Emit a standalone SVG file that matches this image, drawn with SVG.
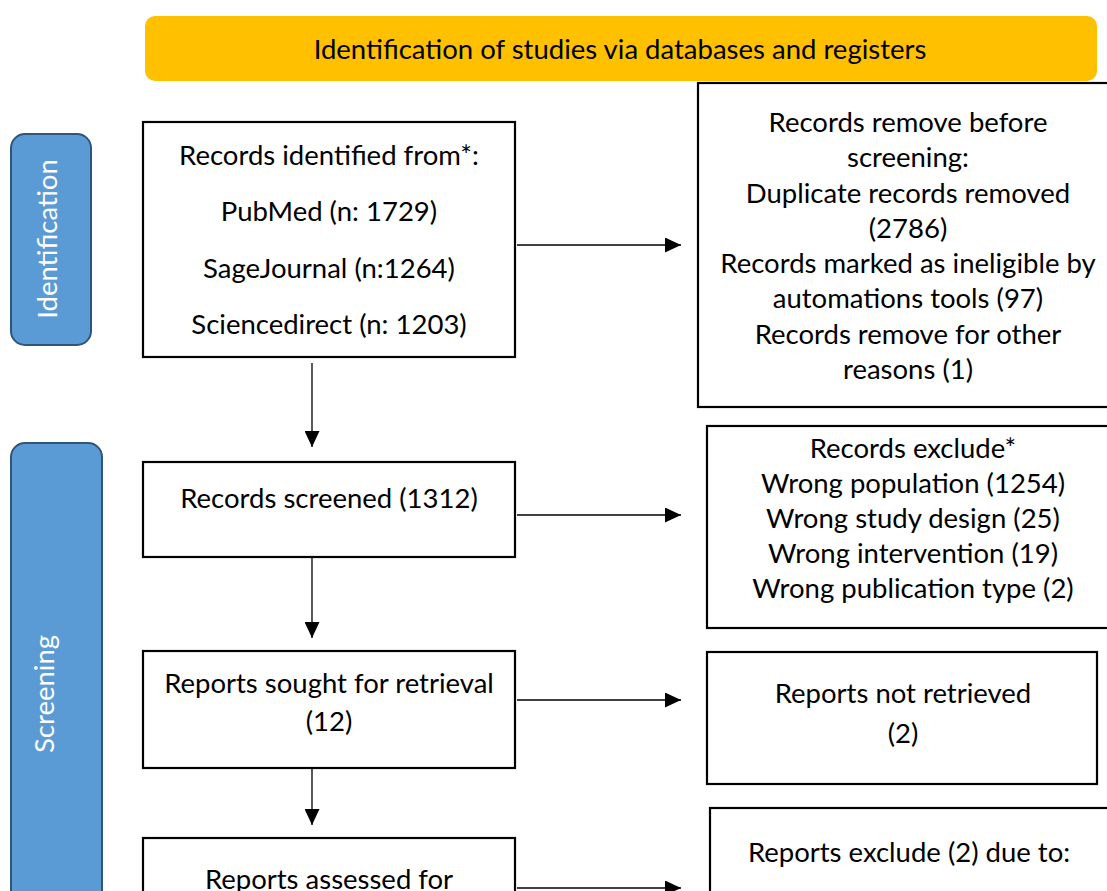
<svg xmlns="http://www.w3.org/2000/svg" width="1107" height="891" viewBox="0 0 1107 891">
<defs>
<marker id="ah" viewBox="0 0 16 15" refX="16" refY="7.5" markerWidth="16" markerHeight="15" markerUnits="userSpaceOnUse" orient="auto">
<path d="M0,0 L16,7.5 L0,15 Z" fill="#000"/>
</marker>
</defs>
<style>
.t{font-family:Lato,"Open Sans","Liberation Sans",sans-serif;font-size:27.5px;fill:#000;text-anchor:middle}
.w{font-family:Lato,"Open Sans","Liberation Sans",sans-serif;font-size:27.5px;fill:#fff;text-anchor:middle}
.box{fill:#fff;stroke:#000;stroke-width:2.2}
.side{fill:#5B9BD5;stroke:#31557A;stroke-width:2}
.c{stroke:#000;stroke-width:1.3;fill:none;marker-end:url(#ah)}
</style>
<rect width="1107" height="891" fill="#fff"/>
<g id="banner">
<rect x="145" y="16" width="952" height="65" rx="10" fill="#FFC000"/>
<text class="t" x="620" y="59">Identification of studies via databases and registers</text>
</g>
<g id="identification">
<rect class="side" x="11" y="134" width="80" height="211" rx="14"/>
<text class="w" transform="translate(57,239) rotate(-90)">Identification</text>
</g>
<g id="screening">
<rect class="side" x="11" y="443" width="91" height="470" rx="14"/>
<text class="w" transform="translate(54,694) rotate(-90)">Screening</text>
</g>
<g id="records-identified">
<rect class="box" x="143" y="122" width="372" height="235"/>
<text class="t" x="329" y="165">Records identified from*:</text>
<text class="t" x="329" y="221">PubMed (n: 1729)</text>
<text class="t" x="329" y="278">SageJournal (n:1264)</text>
<text class="t" x="329" y="334">Sciencedirect (n: 1203)</text>
</g>
<g id="records-removed">
<rect class="box" x="698" y="83" width="430" height="324"/>
<text class="t" x="908" y="132">Records remove before</text>
<text class="t" x="908" y="167">screening:</text>
<text class="t" x="908" y="203">Duplicate records removed</text>
<text class="t" x="908" y="238">(2786)</text>
<text class="t" x="908" y="273">Records marked as ineligible by</text>
<text class="t" x="908" y="308">automations tools (97)</text>
<text class="t" x="908" y="344">Records remove for other</text>
<text class="t" x="908" y="379">reasons (1)</text>
</g>
<g id="records-screened">
<rect class="box" x="143" y="462" width="372" height="95"/>
<text class="t" x="329" y="508">Records screened (1312)</text>
</g>
<g id="records-excluded">
<rect class="box" x="707" y="426" width="430" height="202"/>
<text class="t" x="913" y="458">Records exclude*</text>
<text class="t" x="913" y="493">Wrong population (1254)</text>
<text class="t" x="913" y="528">Wrong study design (25)</text>
<text class="t" x="913" y="563">Wrong intervention (19)</text>
<text class="t" x="913" y="598">Wrong publication type (2)</text>
</g>
<g id="reports-sought">
<rect class="box" x="143" y="651" width="372" height="117"/>
<text class="t" x="329" y="693">Reports sought for retrieval</text>
<text class="t" x="329" y="731">(12)</text>
</g>
<g id="reports-not-retrieved">
<rect class="box" x="707" y="652" width="390" height="132"/>
<text class="t" x="903" y="703">Reports not retrieved</text>
<text class="t" x="903" y="743">(2)</text>
</g>
<g id="reports-assessed">
<rect class="box" x="143" y="838" width="372" height="100"/>
<text class="t" x="329" y="889">Reports assessed for</text>
</g>
<g id="reports-excluded">
<rect class="box" x="710" y="808" width="430" height="100"/>
<text class="t" x="909" y="862">Reports exclude (2) due to:</text>
</g>
<g id="connectors">
<line class="c" x1="517" y1="245" x2="681" y2="245"/>
<line class="c" x1="517" y1="515" x2="681" y2="515"/>
<line class="c" x1="517" y1="700" x2="681" y2="700"/>
<line class="c" x1="517" y1="888" x2="681" y2="888"/>
<line class="c" x1="312" y1="363" x2="312" y2="447"/>
<line class="c" x1="312" y1="557" x2="312" y2="638"/>
<line class="c" x1="312" y1="768" x2="312" y2="825"/>
</g>
</svg>
